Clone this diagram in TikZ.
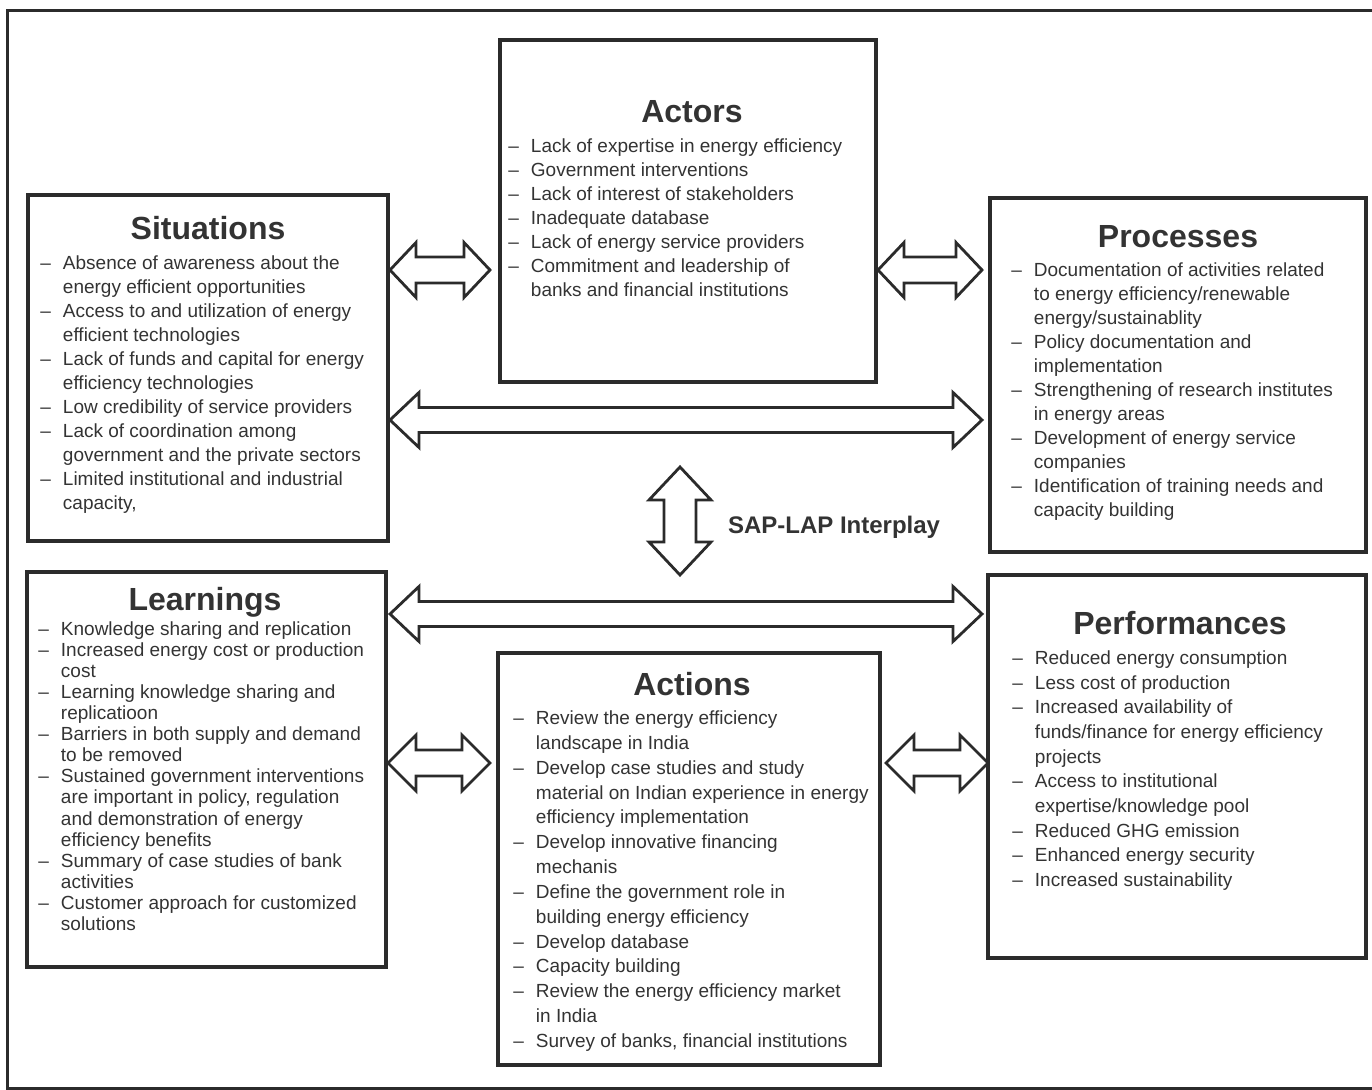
\documentclass[tikz,border=0pt]{standalone}
\usepackage{fontspec}
\setmainfont{Liberation Sans}
\usepackage{array}
\definecolor{ink}{HTML}{2B2B2B}
\definecolor{txt}{HTML}{333333}

\tikzset{
    % hollow two-way block arrow: half length, half shaft, half head, head length
    pics/twoway/.style n args={4}{code={
        \draw[ink, line width=1.4pt, fill=white, line join=miter]
            (-#1,0) -- (-#1+#4,#3) -- (-#1+#4,#2) -- (#1-#4,#2) -- (#1-#4,#3)
            -- (#1,0) -- (#1-#4,-#3) -- (#1-#4,-#2) -- (-#1+#4,-#2)
            -- (-#1+#4,-#3) -- cycle;
    }}
}

\begin{document}
\begin{tikzpicture}[x=0.5pt, y=-0.5pt,
    box/.style={draw=ink, line width=1.6pt, inner sep=0pt},
    heading/.style={anchor=base, font=\fontsize{16}{19}\selectfont\bfseries, text=txt},
    items/.style={anchor=base west, inner sep=0pt, text=txt,
        font=\fontsize{9.5}{#1}\selectfont}]

    \useasboundingbox (0,0) rectangle (1372,1090);
    \draw[ink, line width=1.5pt] (1400,11) -- (7,11) -- (7,1088) -- (1400,1088);

    % the six boxes
    \node[box, minimum width=188pt, minimum height=171pt] (actors) at (688,211) {};
    \node[box, minimum width=180pt, minimum height=173pt] (situations) at (208,368) {};
    \node[box, minimum width=188pt, minimum height=177pt] (processes) at (1178,375) {};
    \node[box, minimum width=179.5pt, minimum height=197.5pt] (learnings) at (206.5,769.5) {};
    \node[box, minimum width=191pt, minimum height=206pt] (actions) at (689,859) {};
    \node[box, minimum width=189pt, minimum height=191.5pt] (performances) at (1177,766.5) {};

    \node[heading] (actorsT) at (692,122.5) {Actors};
    \node[heading] (situationsT) at (208,239.5) {Situations};
    \node[heading] (processesT) at (1178,247.5) {Processes};
    \node[heading] (learningsT) at (205,610.5) {Learnings};
    \node[heading] (actionsT) at (692,695.5) {Actions};
    \node[heading] (performancesT) at (1180,634.5) {Performances};

    \node[items=12pt] (actorsL) at (508,152.5) {\begin{tabular}[t]{@{}l@{\hspace{6pt}}l@{}}
        \textendash & Lack of expertise in energy efficiency\\
        \textendash & Government interventions\\
        \textendash & Lack of interest of stakeholders\\
        \textendash & Inadequate database\\
        \textendash & Lack of energy service providers\\
        \textendash & Commitment and leadership of\\
                    & banks and financial institutions
    \end{tabular}};

    \node[items=12pt] (situationsL) at (40,269.5) {\begin{tabular}[t]{@{}l@{\hspace{6pt}}l@{}}
        \textendash & Absence of awareness about the\\
                    & energy efficient opportunities\\
        \textendash & Access to and utilization of energy\\
                    & efficient technologies\\
        \textendash & Lack of funds and capital for energy\\
                    & efficiency technologies\\
        \textendash & Low credibility of service providers\\
        \textendash & Lack of coordination among\\
                    & government and the private sectors\\
        \textendash & Limited institutional and industrial\\
                    & capacity,
    \end{tabular}};

    \node[items=12pt] (processesL) at (1011,276.5) {\begin{tabular}[t]{@{}l@{\hspace{6pt}}l@{}}
        \textendash & Documentation of activities related\\
                    & to energy efficiency/renewable\\
                    & energy/sustainablity\\
        \textendash & Policy documentation and\\
                    & implementation\\
        \textendash & Strengthening of research institutes\\
                    & in energy areas\\
        \textendash & Development of energy service\\
                    & companies\\
        \textendash & Identification of training needs and\\
                    & capacity building
    \end{tabular}};

    \node[items=10.53pt] (learningsL) at (38,635.5) {\begin{tabular}[t]{@{}l@{\hspace{6pt}}l@{}}
        \textendash & Knowledge sharing and replication\\
        \textendash & Increased energy cost or production\\
                    & cost\\
        \textendash & Learning knowledge sharing and\\
                    & replicatioon\\
        \textendash & Barriers in both supply and demand\\
                    & to be removed\\
        \textendash & Sustained government interventions\\
                    & are important in policy, regulation\\
                    & and demonstration of energy\\
                    & efficiency benefits\\
        \textendash & Summary of case studies of bank\\
                    & activities\\
        \textendash & Customer approach for customized\\
                    & solutions
    \end{tabular}};

    \node[items=12.42pt] (actionsL) at (513,724.5) {\begin{tabular}[t]{@{}l@{\hspace{6pt}}l@{}}
        \textendash & Review the energy efficiency\\
                    & landscape in India\\
        \textendash & Develop case studies and study\\
                    & material on Indian experience in energy\\
                    & efficiency implementation\\
        \textendash & Develop innovative financing\\
                    & mechanis\\
        \textendash & Define the government role in\\
                    & building energy efficiency\\
        \textendash & Develop database\\
        \textendash & Capacity building\\
        \textendash & Review the energy efficiency market\\
                    & in India\\
        \textendash & Survey of banks, financial institutions
    \end{tabular}};

    \node[items=12.33pt] (performancesL) at (1012,664.5) {\begin{tabular}[t]{@{}l@{\hspace{6pt}}l@{}}
        \textendash & Reduced energy consumption\\
        \textendash & Less cost of production\\
        \textendash & Increased availability of\\
                    & funds/finance for energy efficiency\\
                    & projects\\
        \textendash & Access to institutional\\
                    & expertise/knowledge pool\\
        \textendash & Reduced GHG emission\\
        \textendash & Enhanced energy security\\
        \textendash & Increased sustainability
    \end{tabular}};

    % two-way block arrows between the boxes
    \pic (sitact) at (440,270) {twoway={50}{13}{27.5}{26}};
    \pic (actpro) at (930,270) {twoway={52}{13}{27.5}{26}};
    \pic (sitpro) at (686,420) {twoway={296}{12.5}{27.5}{29}};
    \pic (leaper) at (686,614) {twoway={296}{12.5}{27.5}{29}};
    \pic (leaact) at (439,763) {twoway={51}{13}{28}{28}};
    \pic (actper) at (937,763) {twoway={51}{13}{28}{28}};
    \pic[rotate=90] (interplay) at (680,521) {twoway={54}{16}{31}{33}};
    %\node[draw=red] at (680,521) {};

    \node[anchor=base west, font=\fontsize{12}{14}\selectfont\bfseries, text=txt]
        (saplap) at (721,534) {SAP-LAP Interplay};

\end{tikzpicture}
\end{document}
